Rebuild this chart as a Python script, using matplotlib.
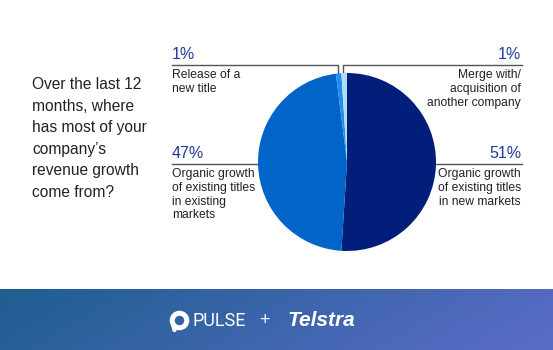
import numpy as np
import matplotlib
matplotlib.use("Agg")
from matplotlib import pyplot as plt

plt.rcParams['font.family'] = ['Liberation Sans', 'DejaVu Sans']

# data
labels = ["Organic growth\nof existing titles\nin new markets",
          "Organic growth\nof existing titles\nin existing\nmarkets",
          "Release of a\nnew title",
          "Merge with/\nacquisition of\nanother company"]
values = [51, 47, 1, 1]
pct_labels = ["51%", "47%", "1%", "1%"]
colors = ["#001E7A", "#0064C8", "#1E8FEA", "#B3DCF6"]
question = "Over the last 12\nmonths, where\nhas most of your\ncompany\u2019s\nrevenue growth\ncome from?"

W, H = 553, 350
fig = plt.figure(figsize=(W / 100, H / 100), dpi=100)
fig.patch.set_facecolor("white")

# overlay axes in pixel coordinates
ov = fig.add_axes([0, 0, 1, 1])
ov.axis("off")

# footer gradient band
xs = np.linspace(0, 1, 256)
ys = np.linspace(0, 1, 32)
gx, gy = np.meshgrid(xs, ys)
t = np.clip(0.85 * gx + 0.15 * gy, 0, 1)
c0 = np.array([0x1E, 0x5E, 0x90]) / 255
c1 = np.array([0x5C, 0x6C, 0xC8]) / 255
grad = c0[None, None, :] * (1 - t[..., None]) + c1[None, None, :] * t[..., None]
ov.imshow(grad, extent=[0, W, 350, 289], aspect="auto", zorder=0)
ov.set_xlim(0, W)
ov.set_ylim(H, 0)

# footer logos
ov.plot([178.5], [320], marker="o", markersize=10.5, markeredgewidth=3.6,
        markerfacecolor="none", markeredgecolor="white", zorder=3)
ov.plot([173.5, 174.5], [325, 330], color="white", lw=3.2, solid_capstyle="round", zorder=3)
ov.text(192, 321.5, "PULSE", color="white", fontsize=13, va="center", ha="left",
        family=["Roboto", "DejaVu Sans"], zorder=3)
ov.text(264, 320.5, "+", color="white", fontsize=13, va="center", ha="center", zorder=3)
ov.text(288, 320, "Telstra", color="white", fontsize=15, va="center", ha="left",
        fontweight="bold", style="italic", zorder=3)

# question text
ov.text(32, 77, question, fontsize=11.2, color="#222222", va="top", ha="left",
        linespacing=1.55)

# pie
cx, cy, r = 347, 162, 89
pax = fig.add_axes([(cx - r) / W, (H - cy - r) / H, 2 * r / W, 2 * r / H])
pax.pie(values, colors=colors, startangle=90, counterclock=False,
        wedgeprops=dict(linewidth=0))
pax.set_xlim(-1, 1)
pax.set_ylim(-1, 1)
pax.axis("off")

line_c = "#555555"
pct_c = "#1E3A9C"
lab_c = "#222222"

# leader lines
ov.plot([172, 338, 338], [65, 65, 74], color=line_c, lw=1.0, zorder=2)
ov.plot([343, 343, 522], [74, 65, 65], color=line_c, lw=1.0, zorder=2)
ov.plot([172, 259], [164, 164], color=line_c, lw=1.0, zorder=2)
ov.plot([435, 522], [164, 164], color=line_c, lw=1.0, zorder=2)

# annotation texts: (index, x, ha, y of leader line)
spots = [(0, 521, "right", 164), (1, 172, "left", 164), (2, 172, "left", 65), (3, 521, "right", 65)]
for i, x, ha, yl in spots:
    ov.text(x, yl - 3, pct_labels[i], color=pct_c, fontsize=11.5, ha=ha, va="bottom")
    ov.text(x, yl + 4, labels[i], color=lab_c, fontsize=8.7, ha=ha, va="top",
            multialignment=ha, linespacing=1.2)

fig.savefig("out.png", dpi=100)
